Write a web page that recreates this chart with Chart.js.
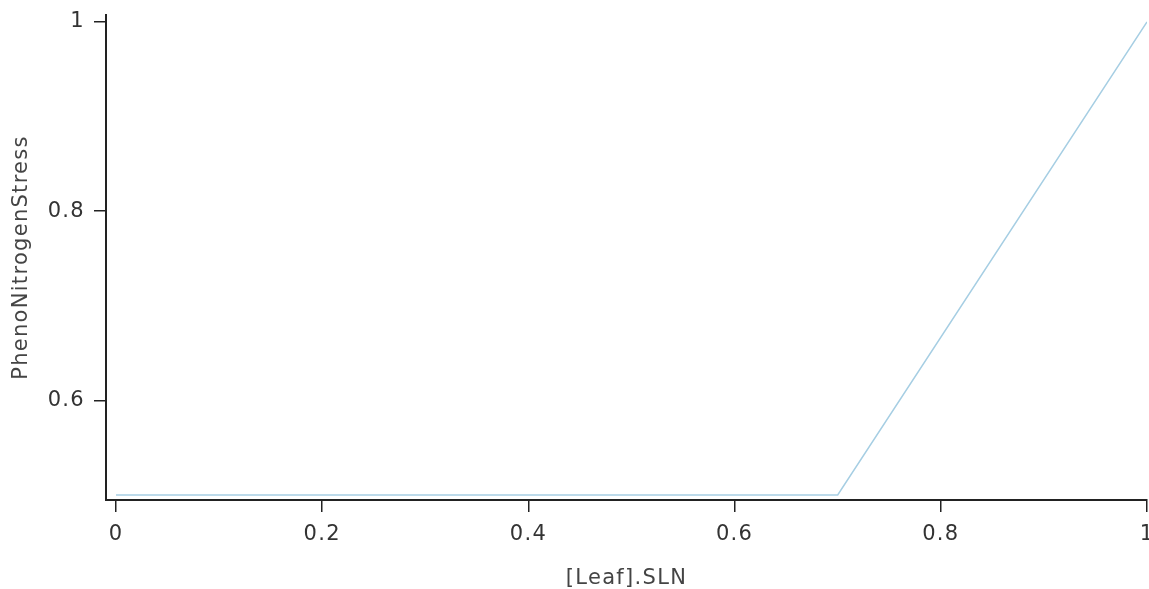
<!DOCTYPE html>
<html>
<head>
<meta charset="utf-8">
<script src="https://cdn.jsdelivr.net/npm/chart.js@4"></script>
<style>
  html, body { margin: 0; padding: 0; background: #fff; }
  #wrap { width: 1149px; height: 589px; }
</style>
</head>
<body>
<div id="wrap"><canvas id="chart" width="1149" height="589"></canvas></div>
<script>
// data
const sln = [0, 0.7, 1];
const stress = [0.5, 0.5, 1];
const xTicks = [0, 0.2, 0.4, 0.6, 0.8, 1];
const yTicks = [0.6, 0.8, 1];

const points = sln.map((x, i) => ({ x: x, y: stress[i] }));
const font = { family: "'DejaVu Sans', sans-serif", size: 21 };
const titleFont = { family: "'DejaVu Sans', sans-serif", size: 21, lineHeight: 1 };

// slightly loose letter spacing like the reference text
const spacing = {
    id: "spacing",
    beforeUpdate: c => { c.ctx.letterSpacing = "1.3px"; },
    beforeLayout: c => { c.ctx.letterSpacing = "1.3px"; },
    beforeDraw: c => { c.ctx.letterSpacing = "1.3px"; }
};

new Chart(document.getElementById("chart").getContext("2d"), {
    type: "line",
    data: {
        datasets: [{
            data: points,
            borderColor: "#a6cee3",
            borderWidth: 1.5,
            pointRadius: 0,
            fill: false,
            tension: 0
        }]
    },
    plugins: [spacing],
    options: {
        responsive: false,
        animation: false,
        layout: { padding: { top: 15, right: 2 } },
        plugins: { legend: { display: false }, tooltip: { enabled: false } },
        scales: {
            x: {
                type: "linear",
                min: -0.0097,
                max: 1,
                afterBuildTicks: s => { s.ticks = xTicks.map(v => ({ value: v })); },
                afterFit: s => { s.height = 89; s.paddingRight = 0; s.paddingLeft = 0; },
                ticks: { font: font, color: "#333", padding: 10, maxRotation: 0, callback: v => String(v) },
                grid: { drawOnChartArea: false, tickLength: 12, color: "#222", lineWidth: 1.5 },
                border: { color: "#222", width: 2 },
                title: { display: true, text: "[Leaf].SLN", font: titleFont, color: "#444", padding: { top: 0, bottom: 0 } }
            },
            y: {
                min: 0.4947,
                max: 1.0074,
                afterBuildTicks: s => { s.ticks = yTicks.map(v => ({ value: v })); },
                afterFit: s => { s.width = 106; s.paddingTop = 0; s.paddingBottom = 0; },
                ticks: { font: font, color: "#333", padding: 9, callback: v => String(v) },
                grid: { drawOnChartArea: false, tickLength: 12, color: "#222", lineWidth: 1.5 },
                border: { color: "#222", width: 2 },
                title: { display: true, text: "PhenoNitrogenStress", font: titleFont, color: "#444", padding: { top: 11, bottom: 0 } }
            }
        }
    }
});
</script>
</body>
</html>
